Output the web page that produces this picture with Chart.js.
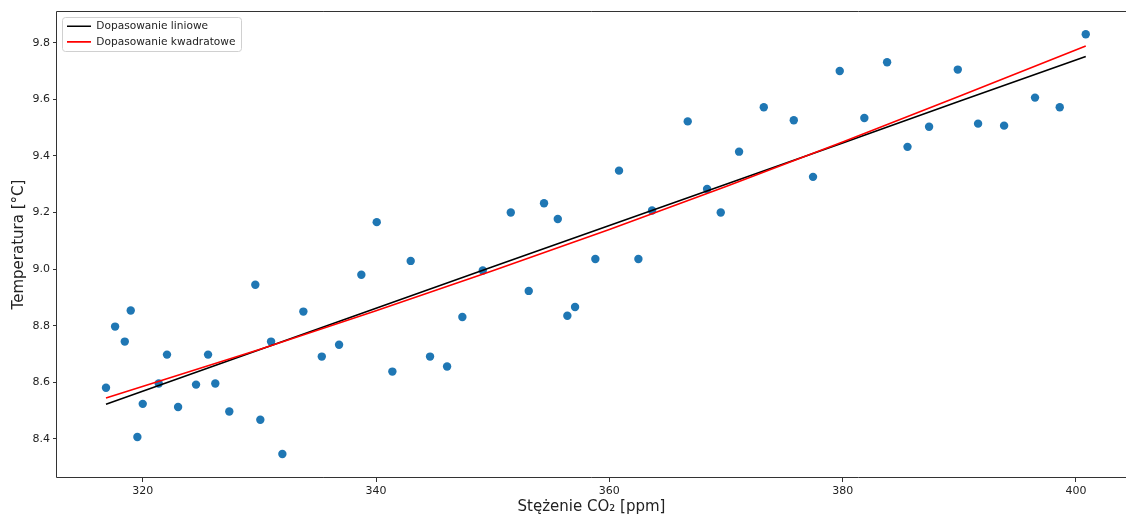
<!DOCTYPE html>
<html>
<head>
<meta charset="utf-8">
<script src="https://cdn.jsdelivr.net/npm/chart.js@4/dist/chart.umd.min.js"></script>
<style>
  html, body { margin: 0; padding: 0; background: #fff; }
  #wrap { width: 1126px; height: 518px; position: relative; }
</style>
</head>
<body>
<div id="wrap"><canvas id="chart"></canvas></div>
<script>
// CO2 concentration [ppm] and temperature [°C]
const co2 = [316.85, 317.63, 318.46, 318.97, 319.54, 320.00, 321.37, 322.08, 323.03, 324.57,
             325.60, 326.22, 327.42, 329.65, 330.08, 331.00, 331.97, 333.77, 335.35, 336.83,
             338.74, 340.06, 341.40, 342.97, 344.63, 346.09, 347.40, 349.15, 351.55, 353.09,
             354.40, 355.58, 356.40, 357.06, 358.80, 360.83, 362.49, 363.66, 366.72, 368.38,
             369.55, 371.12, 373.24, 375.81, 377.46, 379.75, 381.86, 383.81, 385.56, 387.41,
             389.87, 391.61, 393.84, 396.49, 398.61, 400.84];
const temp = [8.581, 8.797, 8.744, 8.854, 8.407, 8.524, 8.596, 8.698, 8.513, 8.592,
              8.698, 8.596, 8.497, 8.945, 8.468, 8.744, 8.347, 8.850, 8.691, 8.733,
              8.980, 9.166, 8.638, 9.029, 8.691, 8.656, 8.831, 8.995, 9.200, 8.923,
              9.233, 9.177, 8.835, 8.866, 9.036, 9.348, 9.036, 9.207, 9.522, 9.283,
              9.200, 9.415, 9.572, 9.526, 9.326, 9.700, 9.534, 9.731, 9.432, 9.503,
              9.705, 9.514, 9.507, 9.606, 9.572, 9.830];

// fitted curves
const fitX      = [316.85, 330, 340, 350, 360, 370, 380, 390, 400.84];
const linearFit = [8.523, 8.715, 8.862, 9.008, 9.154, 9.300, 9.446, 9.593, 9.751];
const quadFit   = [8.545, 8.716, 8.853, 8.994, 9.140, 9.292, 9.449, 9.611, 9.788];

const xTicks = [320, 340, 360, 380, 400];
const yTicks = [8.4, 8.6, 8.8, 9.0, 9.2, 9.4, 9.6, 9.8];

const FONT = 'DejaVu Sans';

const pts = (xs, ys) => xs.map((x, i) => ({ x: x, y: ys[i] }));

// axes frame (right side is cut off in the original) and legend box
const framePlugin = {
    id: 'frame',
    afterLayout(chart) {
        const lg = chart.legend;
        if (!lg) return;
        lg.left = 62;
        lg.top = 16;
        lg.right = lg.left + lg.width;
        lg.bottom = lg.top + lg.height;
    },
    afterDraw(chart) {
        const ctx = chart.ctx;
        const a = chart.chartArea;
        const l = Math.round(a.left) - 0.5, t = Math.round(a.top) + 0.5;
        const b = Math.round(a.bottom) - 0.5, r = chart.width;
        ctx.save();
        ctx.strokeStyle = '#333';
        ctx.lineWidth = 1;
        ctx.beginPath();
        ctx.moveTo(r, t);
        ctx.lineTo(l, t);
        ctx.lineTo(l, b);
        ctx.lineTo(r, b);
        ctx.stroke();

        const hb = chart.legend.legendHitBoxes;
        if (hb && hb.length) {
            const x0 = chart.legend.left;
            const y0 = hb[0].top - 4;
            const x1 = Math.max(...hb.map(h => h.left + h.width)) + 5;
            const y1 = hb[hb.length - 1].top + hb[hb.length - 1].height + 4;
            ctx.strokeStyle = '#d0d0d0';
            ctx.beginPath();
            ctx.roundRect(x0 + 0.5, Math.round(y0) + 0.5, Math.round(x1 - x0), Math.round(y1 - y0), 3);
            ctx.stroke();
        }
        ctx.restore();
    }
};

const cfg = {
    type: 'scatter',
    data: {
        datasets: [
            {
                label: 'Dopasowanie liniowe',
                data: pts(fitX, linearFit),
                showLine: true,
                borderColor: '#000000',
                backgroundColor: '#000000',
                borderWidth: 1.6,
                pointRadius: 0,
                order: 2
            },
            {
                label: 'Dopasowanie kwadratowe',
                data: pts(fitX, quadFit),
                showLine: true,
                borderColor: '#ff0000',
                backgroundColor: '#ff0000',
                borderWidth: 1.6,
                pointRadius: 0,
                order: 1
            },
            {
                label: 'dane',
                data: pts(co2, temp),
                backgroundColor: '#1f77b4',
                borderWidth: 0,
                pointRadius: 4.2,
                order: 3
            }
        ]
    },
    options: {
        responsive: true,
        maintainAspectRatio: false,
        animation: false,
        layout: { autoPadding: false, padding: { top: 11, right: 0, left: 0, bottom: 0 } },
        plugins: {
            tooltip: { enabled: false },
            legend: {
                position: 'chartArea',
                align: 'start',
                labels: {
                    usePointStyle: true,
                    pointStyleWidth: 24,
                    pointStyle: 'line',
                    padding: 5,
                    color: '#222',
                    font: { family: FONT, size: 10.6 },
                    filter: item => item.datasetIndex < 2,
                    sort: (a, b) => a.datasetIndex - b.datasetIndex
                }
            }
        },
        scales: {
            x: {
                type: 'linear',
                min: 312.65,
                max: 404.29,
                afterFit: s => { s.height = 40; s.paddingLeft = 0; s.paddingRight = 0; },
                afterBuildTicks: s => { s.ticks = xTicks.map(v => ({ value: v })); },
                grid: { drawOnChartArea: false, tickLength: 4, color: '#333' },
                border: { display: false },
                ticks: {
                    color: '#222',
                    padding: 3,
                    maxRotation: 0,
                    font: { family: FONT, size: 11 },
                    callback: v => String(v)
                },
                title: {
                    display: true,
                    text: 'Stężenie CO₂ [ppm]',
                    color: '#222',
                    font: { family: FONT, size: 15 },
                    padding: { top: 0, bottom: 2 }
                }
            },
            y: {
                type: 'linear',
                min: 8.262,
                max: 9.912,
                afterFit: s => { s.width = 57; s.paddingTop = 0; s.paddingBottom = 0; },
                afterBuildTicks: s => { s.ticks = yTicks.map(v => ({ value: v })); },
                grid: { drawOnChartArea: false, tickLength: 4, color: '#333' },
                border: { display: false },
                ticks: {
                    color: '#222',
                    padding: 3,
                    font: { family: FONT, size: 11 },
                    callback: v => v.toFixed(1)
                },
                title: {
                    display: true,
                    text: 'Temperatura [°C]',
                    color: '#222',
                    font: { family: FONT, size: 15 },
                    padding: { top: 10, bottom: 0 }
                }
            }
        }
    },
    plugins: [framePlugin]
};

const canvas = document.getElementById('chart');
const myChart = new Chart(canvas, cfg);
</script>
</body>
</html>
